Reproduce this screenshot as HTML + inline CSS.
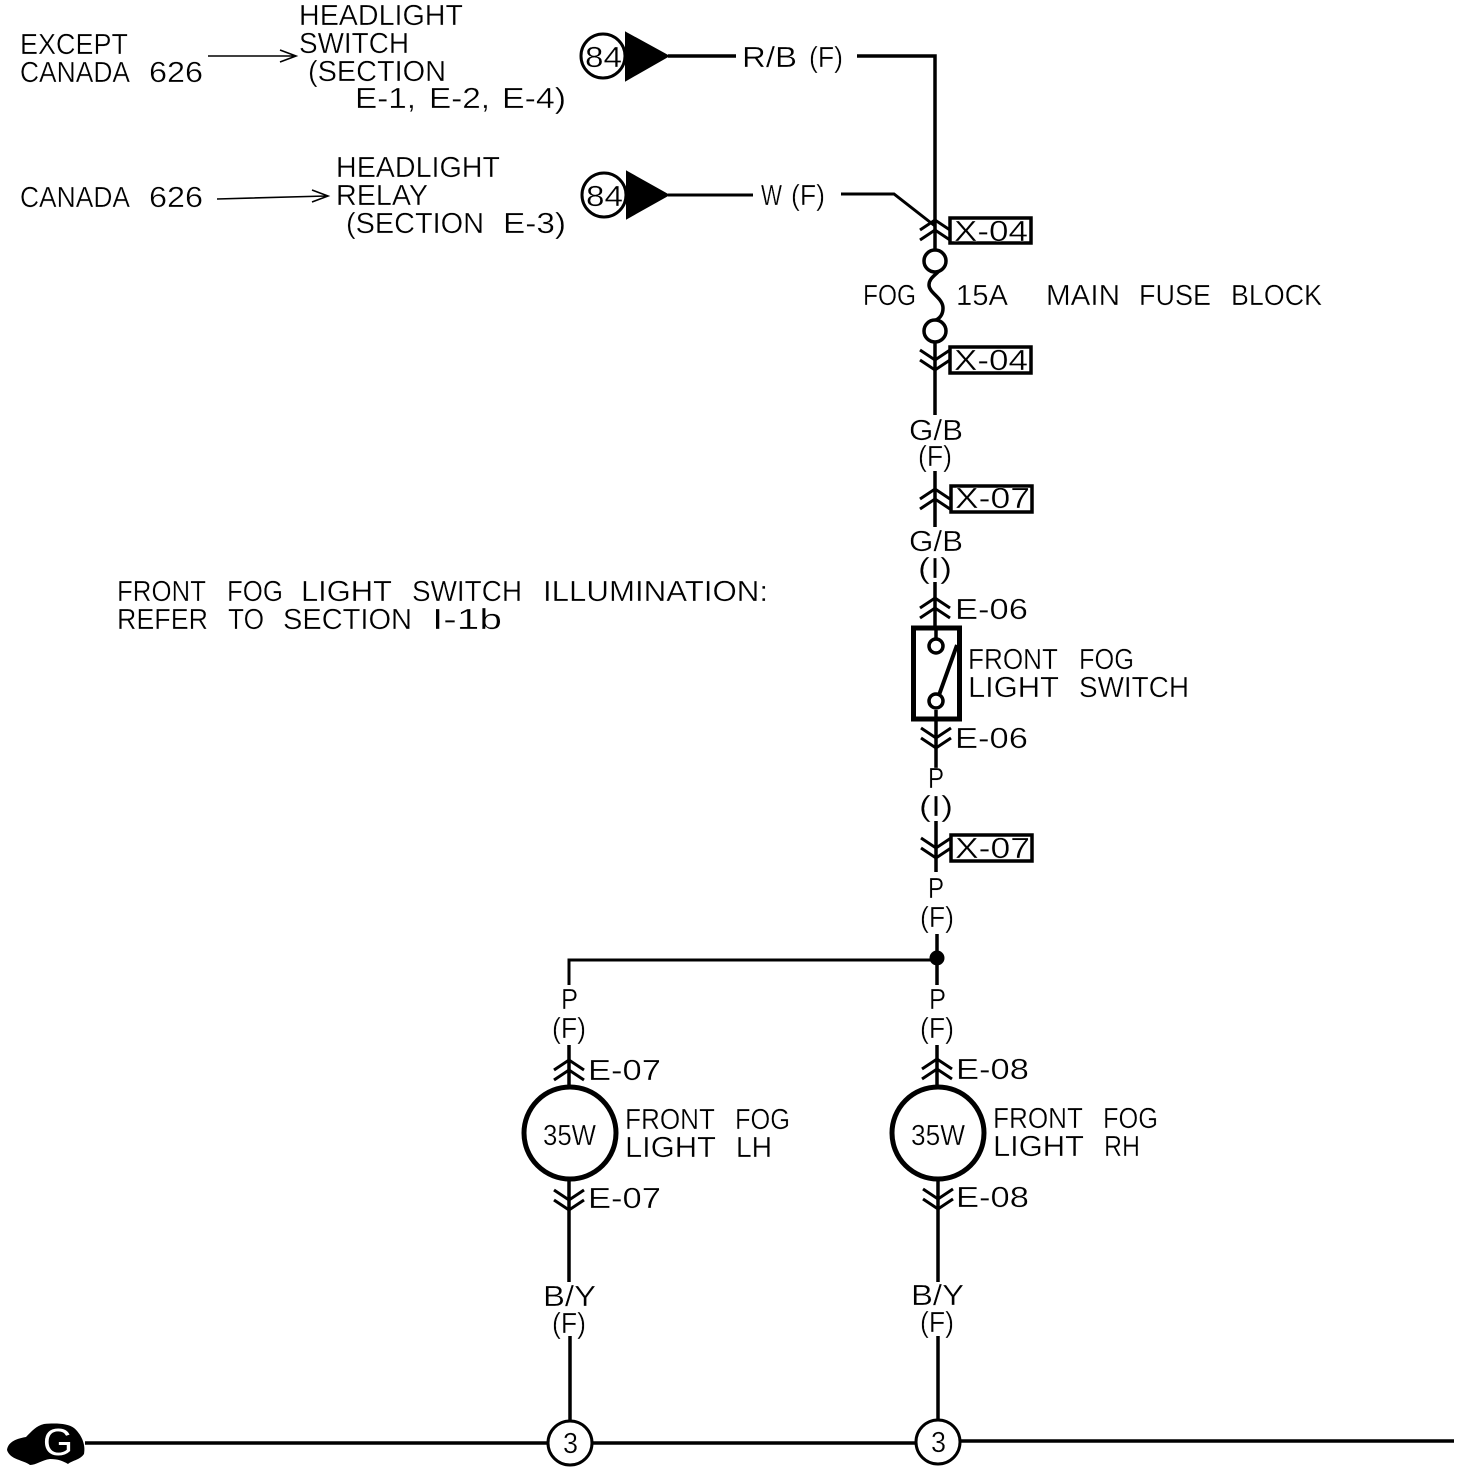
<!DOCTYPE html>
<html><head><meta charset="utf-8"><style>
html,body{margin:0;padding:0;background:#fff}
svg{display:block}
text{font-family:"Liberation Sans",sans-serif;font-size:29px;fill:#000;stroke:#fff;stroke-width:.35px}
.w{fill:none;stroke:#000;stroke-width:3.5}
.t{fill:none;stroke:#000;stroke-width:3}
</style></head><body>
<svg width="1472" height="1474" viewBox="0 0 1472 1474" xmlns="http://www.w3.org/2000/svg">
<defs>
<g id="up"><path d="M-15 5L0 -5L15 5M-15 15L0 5L15 15" fill="none" stroke="#000" stroke-width="3"/></g>
<g id="dn"><path d="M-15 -15L0 -5L15 -15M-15 -5L0 5L15 -5" fill="none" stroke="#000" stroke-width="3"/></g>
</defs>
<!-- wires -->
<path class="w" d="M668 56H736M857 56H935V228" />
<path class="w" d="M668 195H753M841 194H894L935 226" style="stroke-width:3"/>
<path class="w" d="M935 228V252M935 340V415M935 471V527M935 582V630"/>
<path class="w" d="M936 720V768M936 821V872M937 934V985"/>
<path class="w" d="M569 985V960H937" style="stroke-width:3"/>
<path class="w" d="M569 1045V1090M937 1045V1090M569 1180V1282M938 1180V1282M570 1336V1420M938 1336V1420"/>
<path class="w" d="M85 1443H548M592 1443H916M960 1441L1454 1441"/>
<circle cx="937" cy="958" r="7.5" fill="#000"/>
<!-- source terminals -->
<circle cx="603" cy="56" r="22" fill="#fff" stroke="#000" stroke-width="3"/>
<path d="M626 33L668 56L626 80Z" fill="#000" stroke="#000" stroke-width="2"/>
<circle cx="604" cy="195" r="22" fill="#fff" stroke="#000" stroke-width="3"/>
<path d="M627 172L668 195L627 218Z" fill="#000" stroke="#000" stroke-width="2"/>
<!-- thin arrows -->
<path d="M208 56H294M280 50L296 56L280 62" fill="none" stroke="#000" stroke-width="1.6"/>
<path d="M217 199L326 196M312 190L328 196L312 202" fill="none" stroke="#000" stroke-width="1.6"/>
<!-- connector chevrons -->
<use href="#up" x="935" y="225"/>
<use href="#dn" x="935" y="365"/>
<use href="#up" x="935" y="494"/>
<use href="#up" x="935" y="603"/>
<use href="#dn" x="936" y="743"/>
<use href="#dn" x="936" y="853"/>
<use href="#up" x="569" y="1065"/>
<use href="#up" x="937" y="1064"/>
<use href="#dn" x="569" y="1205"/>
<use href="#dn" x="938" y="1204"/>
<!-- label boxes -->
<rect x="950" y="218" width="81" height="25" fill="#fff" stroke="#000" stroke-width="3.5"/>
<rect x="950" y="347" width="81" height="26" fill="#fff" stroke="#000" stroke-width="3.5"/>
<rect x="951" y="486" width="81" height="26" fill="#fff" stroke="#000" stroke-width="3.5"/>
<rect x="951" y="835" width="81" height="26" fill="#fff" stroke="#000" stroke-width="3.5"/>
<!-- fuse -->
<circle cx="935" cy="261" r="11" class="t" style="fill:#fff;stroke-width:3.5"/>
<circle cx="935" cy="331" r="11" class="t" style="fill:#fff;stroke-width:3.5"/>
<path class="t" style="stroke-width:3.5" d="M938 272C934 276 929 279 929 285C929 293 943 298 943 308C943 314 940 318 936 320"/>
<!-- switch -->
<rect x="913.500" y="628" width="46" height="91" fill="#fff" stroke="#000" stroke-width="5"/>
<path class="w" d="M936 628V638M936 710V719"/>
<circle cx="936" cy="646" r="7" fill="#fff" stroke="#000" stroke-width="3.5"/>
<circle cx="936" cy="701" r="7" fill="#fff" stroke="#000" stroke-width="3.5"/>
<path d="M939 695L957 645" fill="none" stroke="#000" stroke-width="4"/>
<!-- lamps -->
<circle cx="570" cy="1133" r="46" fill="#fff" stroke="#000" stroke-width="5"/>
<circle cx="938" cy="1133" r="46" fill="#fff" stroke="#000" stroke-width="5"/>
<!-- ground nodes -->
<circle cx="570" cy="1443" r="22" fill="#fff" stroke="#000" stroke-width="3"/>
<circle cx="938" cy="1442" r="22" fill="#fff" stroke="#000" stroke-width="3"/>
<!-- car -->
<path d="M7 1450C8 1443 14 1439 26 1437C32 1431 36 1426 44 1424C54 1423 68 1423 74 1428C81 1434 86 1444 84 1454C80 1460 73 1460 68 1464C63 1461 58 1459 50 1459C42 1460 36 1465 30 1465C24 1460 10 1460 7 1450Z" fill="#000"/>
<!-- text -->
<text x="20" y="54" textLength="108" lengthAdjust="spacingAndGlyphs">EXCEPT</text>
<text x="20" y="82" textLength="110" lengthAdjust="spacingAndGlyphs">CANADA</text>
<text x="149" y="82" textLength="54" lengthAdjust="spacingAndGlyphs">626</text>
<text x="299" y="25" textLength="164" lengthAdjust="spacingAndGlyphs">HEADLIGHT</text>
<text x="299" y="53" textLength="110" lengthAdjust="spacingAndGlyphs">SWITCH</text>
<text x="308" y="81" textLength="138" lengthAdjust="spacingAndGlyphs">(SECTION</text>
<text x="355" y="108" textLength="61" lengthAdjust="spacingAndGlyphs">E-1,</text>
<text x="429" y="108" textLength="61" lengthAdjust="spacingAndGlyphs">E-2,</text>
<text x="502" y="108" textLength="64" lengthAdjust="spacingAndGlyphs">E-4)</text>
<text x="336" y="177" textLength="164" lengthAdjust="spacingAndGlyphs">HEADLIGHT</text>
<text x="336" y="205" textLength="92" lengthAdjust="spacingAndGlyphs">RELAY</text>
<text x="346" y="233" textLength="138" lengthAdjust="spacingAndGlyphs">(SECTION</text>
<text x="503" y="233" textLength="63" lengthAdjust="spacingAndGlyphs">E-3)</text>
<text x="20" y="207" textLength="110" lengthAdjust="spacingAndGlyphs">CANADA</text>
<text x="149" y="207" textLength="54" lengthAdjust="spacingAndGlyphs">626</text>
<text x="585" y="67" textLength="37" lengthAdjust="spacingAndGlyphs">84</text>
<text x="586" y="206" textLength="37" lengthAdjust="spacingAndGlyphs">84</text>
<text x="742" y="67" textLength="55" lengthAdjust="spacingAndGlyphs">R/B</text>
<text x="809" y="67" textLength="34" lengthAdjust="spacingAndGlyphs">(F)</text>
<text x="761" y="205" textLength="21" lengthAdjust="spacingAndGlyphs">W</text>
<text x="791" y="205" textLength="34" lengthAdjust="spacingAndGlyphs">(F)</text>
<text x="954" y="241" textLength="74" lengthAdjust="spacingAndGlyphs">X-04</text>
<text x="863" y="305" textLength="53" lengthAdjust="spacingAndGlyphs">FOG</text>
<text x="956" y="305" textLength="52" lengthAdjust="spacingAndGlyphs">15A</text>
<text x="1046" y="305" textLength="74" lengthAdjust="spacingAndGlyphs">MAIN</text>
<text x="1139" y="305" textLength="72" lengthAdjust="spacingAndGlyphs">FUSE</text>
<text x="1231" y="305" textLength="91" lengthAdjust="spacingAndGlyphs">BLOCK</text>
<text x="954" y="370" textLength="74" lengthAdjust="spacingAndGlyphs">X-04</text>
<text x="909" y="440" textLength="54" lengthAdjust="spacingAndGlyphs">G/B</text>
<text x="918" y="466" textLength="34" lengthAdjust="spacingAndGlyphs">(F)</text>
<text x="955" y="508" textLength="75" lengthAdjust="spacingAndGlyphs">X-07</text>
<text x="909" y="551" textLength="54" lengthAdjust="spacingAndGlyphs">G/B</text>
<text x="918" y="578" textLength="34" lengthAdjust="spacingAndGlyphs">(I)</text>
<text x="955" y="619" textLength="73" lengthAdjust="spacingAndGlyphs">E-06</text>
<text x="968" y="669" textLength="90" lengthAdjust="spacingAndGlyphs">FRONT</text>
<text x="1079" y="669" textLength="55" lengthAdjust="spacingAndGlyphs">FOG</text>
<text x="968" y="697" textLength="91" lengthAdjust="spacingAndGlyphs">LIGHT</text>
<text x="1079" y="697" textLength="110" lengthAdjust="spacingAndGlyphs">SWITCH</text>
<text x="955" y="748" textLength="73" lengthAdjust="spacingAndGlyphs">E-06</text>
<text x="928" y="788" textLength="16" lengthAdjust="spacingAndGlyphs">P</text>
<text x="919" y="816" textLength="34" lengthAdjust="spacingAndGlyphs">(I)</text>
<text x="955" y="858" textLength="75" lengthAdjust="spacingAndGlyphs">X-07</text>
<text x="928" y="898" textLength="16" lengthAdjust="spacingAndGlyphs">P</text>
<text x="920" y="927" textLength="34" lengthAdjust="spacingAndGlyphs">(F)</text>
<text x="117" y="601" textLength="89" lengthAdjust="spacingAndGlyphs">FRONT</text>
<text x="227" y="601" textLength="56" lengthAdjust="spacingAndGlyphs">FOG</text>
<text x="301" y="601" textLength="91" lengthAdjust="spacingAndGlyphs">LIGHT</text>
<text x="412" y="601" textLength="110" lengthAdjust="spacingAndGlyphs">SWITCH</text>
<text x="543" y="601" textLength="225" lengthAdjust="spacingAndGlyphs">ILLUMINATION:</text>
<text x="117" y="629" textLength="91" lengthAdjust="spacingAndGlyphs">REFER</text>
<text x="228" y="629" textLength="36" lengthAdjust="spacingAndGlyphs">TO</text>
<text x="283" y="629" textLength="129" lengthAdjust="spacingAndGlyphs">SECTION</text>
<text x="432" y="629" textLength="70" lengthAdjust="spacingAndGlyphs">I-1b</text>
<text x="561" y="1009" textLength="17" lengthAdjust="spacingAndGlyphs">P</text>
<text x="552" y="1038" textLength="34" lengthAdjust="spacingAndGlyphs">(F)</text>
<text x="929" y="1009" textLength="17" lengthAdjust="spacingAndGlyphs">P</text>
<text x="920" y="1038" textLength="34" lengthAdjust="spacingAndGlyphs">(F)</text>
<text x="588" y="1080" textLength="73" lengthAdjust="spacingAndGlyphs">E-07</text>
<text x="956" y="1079" textLength="73" lengthAdjust="spacingAndGlyphs">E-08</text>
<text x="543" y="1145" textLength="53" lengthAdjust="spacingAndGlyphs">35W</text>
<text x="911" y="1145" textLength="54" lengthAdjust="spacingAndGlyphs">35W</text>
<text x="625" y="1129" textLength="90" lengthAdjust="spacingAndGlyphs">FRONT</text>
<text x="735" y="1129" textLength="55" lengthAdjust="spacingAndGlyphs">FOG</text>
<text x="625" y="1157" textLength="91" lengthAdjust="spacingAndGlyphs">LIGHT</text>
<text x="736" y="1157" textLength="36" lengthAdjust="spacingAndGlyphs">LH</text>
<text x="993" y="1128" textLength="90" lengthAdjust="spacingAndGlyphs">FRONT</text>
<text x="1103" y="1128" textLength="55" lengthAdjust="spacingAndGlyphs">FOG</text>
<text x="993" y="1156" textLength="91" lengthAdjust="spacingAndGlyphs">LIGHT</text>
<text x="1104" y="1156" textLength="36" lengthAdjust="spacingAndGlyphs">RH</text>
<text x="588" y="1208" textLength="73" lengthAdjust="spacingAndGlyphs">E-07</text>
<text x="956" y="1207" textLength="73" lengthAdjust="spacingAndGlyphs">E-08</text>
<text x="543" y="1306" textLength="53" lengthAdjust="spacingAndGlyphs">B/Y</text>
<text x="552" y="1333" textLength="34" lengthAdjust="spacingAndGlyphs">(F)</text>
<text x="911" y="1305" textLength="53" lengthAdjust="spacingAndGlyphs">B/Y</text>
<text x="920" y="1332" textLength="34" lengthAdjust="spacingAndGlyphs">(F)</text>
<text x="563" y="1453" textLength="15" lengthAdjust="spacingAndGlyphs">3</text>
<text x="931" y="1452" textLength="15" lengthAdjust="spacingAndGlyphs">3</text>
<text x="43" y="1455" textLength="30" lengthAdjust="spacingAndGlyphs" style="fill:#fff;stroke:none;font-size:38px">G</text>
</svg>
</body></html>
